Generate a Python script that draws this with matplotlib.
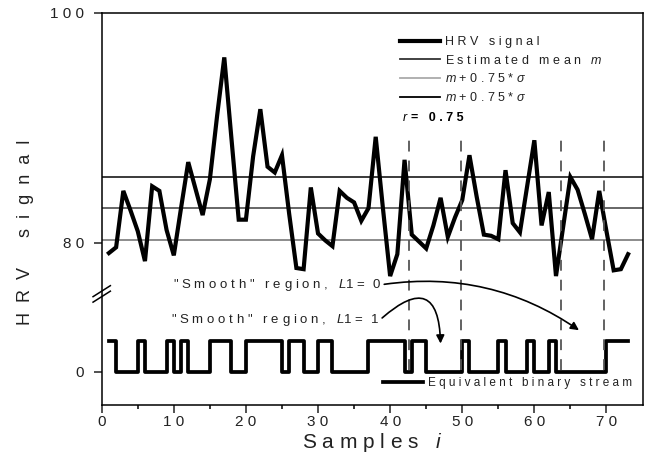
import matplotlib
matplotlib.use('Agg')
import matplotlib.pyplot as plt
from matplotlib.lines import Line2D
import numpy as np

plt.rcParams['font.family'] = ['Liberation Sans', 'DejaVu Sans']
plt.rcParams['mathtext.fontset'] = 'custom'
plt.rcParams['mathtext.rm'] = 'Liberation Sans'
plt.rcParams['mathtext.it'] = 'Liberation Sans:italic'

# HRV samples
samples = np.arange(1, 74)
hrv = [79.1, 79.6, 84.5, 82.8, 81.0, 78.4, 84.9, 84.5, 81.1, 78.9,
       83.0, 87.0, 84.7, 82.4, 85.5, 91.0, 96.1, 89.0, 82.0, 82.0,
       87.5, 91.6, 86.6, 86.1, 87.6, 82.5, 77.8, 77.7, 84.8, 80.8,
       80.2, 79.7, 84.5, 83.9, 83.5, 81.9, 83.0, 89.2, 83.0, 77.1,
       79.0, 87.2, 80.7, 80.1, 79.5, 81.5, 83.9, 80.5, 82.2, 83.7,
       87.6, 84.0, 80.7, 80.6, 80.3, 86.3, 81.7, 80.9, 84.9, 88.9,
       81.5, 84.4, 77.1, 81.4, 85.7, 84.6, 82.5, 80.3, 84.5, 81.0,
       77.6, 77.7, 79.0]
# equivalent binary stream (1 = sample outside the m +/- 0.75 sigma band)
binary = [1, 1, 0, 0, 0, 1, 0, 0, 0, 1,
          0, 1, 0, 0, 0, 1, 1, 1, 0, 0,
          1, 1, 1, 1, 1, 0, 1, 1, 0, 0,
          1, 1, 0, 0, 0, 0, 0, 1, 1, 1,
          1, 1, 0, 1, 1, 0, 0, 0, 0, 0,
          1, 0, 0, 0, 0, 1, 0, 0, 0, 1,
          0, 0, 1, 0, 0, 0, 0, 0, 0, 0,
          1, 1, 1]
mean_m = 83.0
upper = 85.7
lower = 80.25
boundaries = [42.6, 49.8, 63.7, 69.7]

# broken y axis: the binary stream lives in the band under the break
bin_base = 68.8
bin_height = 2.7
bin_y = bin_base + np.array(binary) * bin_height


def sp(s, n=1):
    gap = ' ' * n
    return (gap * 3).join(gap.join(w) for w in s.split(' '))


fig = plt.figure(figsize=(6.49, 4.63), dpi=100)
ax = fig.add_axes([0.1567, 0.1253, 0.8333, 0.8477])

ax.axhline(upper, color='#3a3a3a', lw=1.4)
ax.axhline(mean_m, color='#666666', lw=1.4)
ax.axhline(lower, color='#8c8c8c', lw=1.4)
hrv_line, = ax.plot(samples, hrv, color='black', lw=3.0, solid_joinstyle='miter')
bin_line, = ax.plot(samples, bin_y, color='black', lw=2.7, drawstyle='steps-pre')
for b in boundaries:
    ax.plot([b, b], [68.9, 89.4], color='#555555', lw=1.3, ls=(0, (6, 5)))

ax.set_xlim(0, 75)
ax.set_ylim(65.9, 100)
ax.set_xticks(np.arange(0, 71, 10))
ax.set_xticks(np.arange(5, 75, 10), minor=True)
ax.set_xticklabels([sp(str(v)) for v in range(0, 71, 10)])
ax.set_yticks([bin_base, 80, 100])
ax.set_yticklabels(['0', sp('80'), sp('100')])
ax.tick_params(direction='out', length=5.5, width=1.1, labelsize=11, colors='#222222')
ax.tick_params(axis='x', pad=2)
ax.tick_params(axis='y', pad=7)
ax.tick_params(which='minor', direction='out', length=3, width=1.1)
for s in ax.spines.values():
    s.set_linewidth(1.1)

ax.set_ylabel(sp('HRV signal', 2), fontsize=13, color='#222222')
ax.yaxis.set_label_coords(-0.125, 0.44)
ax.set_xlabel(sp('Samples') + '   ' + r'$i$', fontsize=15, color='#222222')
ax.xaxis.set_label_coords(0.5, -0.066)

# break marks on the y axis
for dy in (0.0, 0.014):
    ax.plot([-0.016, 0.016], [0.262 + dy, 0.290 + dy], transform=ax.transAxes,
            color='black', lw=1.1, clip_on=False)

leg = ax.legend([hrv_line,
                 Line2D([], [], color='#333333', lw=1.3),
                 Line2D([], [], color='#aaaaaa', lw=1.3),
                 Line2D([], [], color='black', lw=1.3)],
                [sp('HRV signal'), sp('Estimated mean') + '   ' + r'$m$',
                 r'$m$ + 0 . 7 5 * $\sigma$', r'$m$ + 0 . 7 5 * $\sigma$'],
                loc='upper left', bbox_to_anchor=(0.552, 0.94), frameon=False,
                fontsize=9, handlelength=3.2, handletextpad=0.4,
                labelspacing=0.45, borderpad=0, borderaxespad=0)
for t in leg.get_texts():
    t.set_color('#222222')
ax.add_artist(leg)
leg2 = ax.legend([bin_line], [sp('Equivalent binary stream')],
                 loc='center left', bbox_to_anchor=(0.52, 0.056), frameon=False,
                 fontsize=8.5, handlelength=3.4, handletextpad=0.4,
                 borderpad=0, borderaxespad=0)
leg2.get_texts()[0].set_color('#222222')

ax.text(41.6, 90.8, r'$r$', fontsize=9, fontweight='bold', va='center')
ax.annotate(sp('= 0.75'), (41.6, 90.8), xytext=(7, 0), textcoords='offset points',
            fontsize=9, fontweight='bold', va='center')

ax.text(38.7, 76.35, sp('"Smooth" region,') + '   ' + r'$L1$' + ' =  0',
        ha='right', va='center', fontsize=9.5, color='#222222')
ax.text(38.4, 73.3, sp('"Smooth" region,') + '   ' + r'$L1$' + ' =  1',
        ha='right', va='center', fontsize=9.5, color='#222222')
ax.annotate('', xy=(66.5, 72.26), xytext=(38.8, 76.35),
            arrowprops=dict(arrowstyle='-|>', color='black', lw=1.2,
                            mutation_scale=12, connectionstyle='arc3,rad=-0.2'))
ax.annotate('', xy=(47.0, 71.0), xytext=(38.6, 73.3),
            arrowprops=dict(arrowstyle='-|>', color='black', lw=1.2,
                            mutation_scale=12, connectionstyle='arc3,rad=-1.1'))

fig.savefig('out.png', dpi=100)
